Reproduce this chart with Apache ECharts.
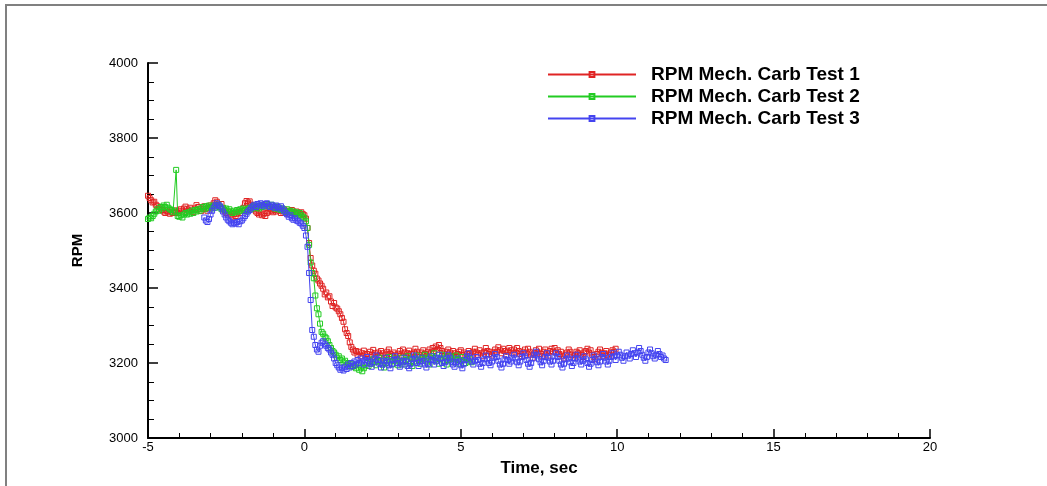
<!DOCTYPE html>
<html>
<head>
<meta charset="utf-8">
<script src="https://cdn.jsdelivr.net/npm/echarts@6/dist/echarts.min.js"></script>
<style>
html,body{margin:0;padding:0;background:#fff;}
#chart{width:1047px;height:486px;}
</style>
</head>
<body>
<div id="chart"></div>
<script>
// ---- data (time step 0.05 s) ----
const seriesNames = ['RPM Mech. Carb Test 1', 'RPM Mech. Carb Test 2', 'RPM Mech. Carb Test 3'];
const timeStep = 0.05;
const redStart = -5.0;
const redRPM = [
3646,3640,3634,3628,3630,3622,3618,3612,3615,3608,3604,3600,3606,3602,3598,3604,3600,3607,3603,3600,
3606,3610,3604,3612,3617,3610,3606,3614,3609,3603,3612,3621,3616,3610,3605,3612,3618,3611,3606,3614,
3620,3615,3626,3634,3630,3622,3616,3624,3612,3606,3600,3596,3602,3594,3590,3597,3592,3598,3604,3600,
3606,3614,3626,3632,3628,3631,3622,3616,3610,3604,3600,3596,3602,3594,3598,3592,3600,3604,3610,3606,
3602,3608,3604,3610,3606,3600,3604,3609,3603,3598,3606,3602,3608,3603,3598,3604,3600,3596,3602,3597,
3594,3585,3560,3520,3480,3460,3446,3438,3425,3420,3412,3406,3398,3383,3388,3375,3378,3364,3352,3360,
3348,3345,3338,3330,3320,3310,3290,3280,3272,3255,3243,3236,3228,3232,3222,3230,3218,3226,3233,3220,
3224,3216,3230,3222,3235,3226,3218,3228,3221,3232,3226,3214,3222,3230,3236,3224,3219,3228,3222,3212,
3225,3232,3220,3236,3228,3218,3226,3233,3224,3215,3228,3238,3230,3222,3216,3228,3234,3224,3218,3230,
3236,3226,3240,3232,3244,3236,3248,3240,3232,3225,3218,3230,3236,3228,3220,3232,3226,3216,3224,3230,
3234,3222,3228,3216,3224,3232,3226,3220,3230,3238,3228,3222,3234,3226,3218,3230,3240,3232,3224,3230,
3220,3228,3236,3230,3242,3234,3226,3238,3232,3222,3230,3240,3234,3226,3236,3228,3240,3232,3224,3218,
3230,3236,3226,3238,3230,3222,3214,3226,3234,3228,3238,3224,3218,3230,3236,3226,3220,3232,3238,3230,
3240,3228,3234,3224,3230,3218,3212,3222,3228,3236,3230,3222,3214,3220,3230,3226,3234,3222,3216,3228,
3232,3238,3228,3234,3222,3216,3210,3224,3230,3236,3226,3218,3226,3232,3222,3216,3228,3234,3230,3238
];
const greenStart = -5.0;
const greenRPM = [
3584,3588,3586,3592,3598,3604,3610,3606,3616,3612,3620,3616,3622,3614,3610,3608,3602,3606,3715,3592,
3590,3594,3588,3596,3600,3596,3602,3598,3606,3600,3608,3604,3610,3606,3612,3616,3610,3618,3614,3620,
3616,3612,3620,3614,3618,3622,3616,3610,3614,3608,3612,3606,3610,3604,3600,3606,3602,3608,3604,3610,
3606,3612,3608,3604,3610,3614,3610,3616,3620,3614,3618,3612,3620,3616,3622,3618,3624,3620,3616,3622,
3616,3612,3618,3610,3614,3608,3612,3606,3604,3610,3602,3606,3600,3604,3598,3602,3596,3600,3594,3590,
3586,3578,3560,3515,3468,3440,3426,3380,3346,3330,3305,3283,3278,3270,3266,3258,3248,3240,3232,3228,
3222,3214,3218,3208,3212,3202,3206,3196,3200,3192,3198,3190,3194,3186,3196,3182,3188,3178,3186,3194,
3200,3192,3206,3198,3210,3202,3194,3204,3214,3206,3196,3188,3200,3208,3216,3204,3196,3206,3212,3200,
3194,3206,3214,3202,3196,3208,3218,3210,3200,3192,3204,3212,3220,3208,3198,3206,3214,3222,3212,3204,
3196,3208,3218,3226,3214,3206,3198,3210,3222,3214,3204,3196,3208,3218,3210,3202,3212,3220,3208,3198,
3206,3216,3208,3200,3212,3204,3210,3202
];
const blueStart = -3.2;
const blueRPM = [
3588,3580,3576,3584,3596,3606,3614,3620,3626,3622,3618,3612,3604,3596,3588,3582,3578,3574,3570,3574,
3572,3576,3570,3578,3580,3586,3592,3598,3604,3608,3614,3618,3622,3616,3624,3620,3626,3622,3618,3624,
3626,3620,3616,3622,3618,3614,3620,3616,3612,3618,3612,3606,3600,3596,3590,3594,3586,3582,3586,3580,
3578,3574,3572,3566,3560,3540,3510,3440,3368,3288,3270,3248,3236,3230,3246,3254,3258,3250,3246,3240,
3236,3228,3222,3212,3200,3194,3188,3182,3186,3180,3190,3184,3196,3188,3200,3192,3204,3196,3208,3200,
3212,3204,3196,3208,3216,3206,3198,3190,3202,3212,3220,3208,3198,3188,3196,3206,3214,3204,3194,3186,
3198,3208,3218,3210,3200,3190,3196,3206,3214,3204,3192,3186,3198,3210,3220,3212,3200,3192,3204,3214,
3206,3196,3188,3198,3210,3218,3208,3196,3204,3214,3222,3212,3200,3192,3202,3212,3222,3214,3204,3196,
3190,3202,3212,3204,3194,3186,3198,3208,3218,3226,3214,3204,3196,3206,3216,3208,3198,3190,3200,3210,
3220,3210,3200,3194,3204,3214,3224,3216,3206,3196,3188,3198,3210,3218,3208,3198,3204,3214,3222,3212,
3202,3194,3204,3216,3226,3218,3208,3198,3190,3200,3212,3222,3230,3220,3210,3202,3194,3206,3216,3226,
3214,3204,3196,3206,3218,3226,3216,3206,3196,3188,3198,3210,3220,3212,3202,3192,3200,3212,3222,3212,
3204,3196,3206,3218,3210,3200,3190,3198,3208,3220,3212,3202,3194,3204,3216,3224,3214,3204,3196,3206,
3216,3226,3218,3208,3220,3230,3222,3214,3206,3218,3228,3220,3212,3224,3234,3226,3216,3228,3240,3232,
3222,3214,3206,3216,3228,3236,3226,3218,3212,3222,3232,3224,3216,3220,3212,3208
];
const xTicks = [-5, 0, 5, 10, 15, 20];
const yTicks = [3000, 3200, 3400, 3600, 3800, 4000];

const colors = ['#e02424', '#22cc22', '#4444f0'];

function toPairs(start, vals) {
  return vals.map((v, i) => [+(start + i * timeStep).toFixed(3), v]);
}
const allData = [toPairs(redStart, redRPM), toPairs(greenStart, greenRPM), toPairs(blueStart, blueRPM)];

const chart = echarts.init(document.getElementById('chart'), null, {renderer: 'canvas'});
const font = 'Liberation Sans, Arial, sans-serif';
chart.setOption({
  animation: false,
  backgroundColor: '#fff',
  grid: {left: 148, right: 117, top: 63, bottom: 48, containLabel: false},
  graphic: [{
    type: 'rect', shape: {x: 6, y: 5, width: 1200, height: 600},
    style: {fill: 'none', stroke: '#808080', lineWidth: 2}, silent: true, z: -1
  }],
  legend: {
    orient: 'vertical', left: 542, top: 60,
    itemWidth: 88, itemHeight: 6, itemGap: 3,
    data: seriesNames,
    textStyle: {fontFamily: font, fontWeight: 'bold', fontSize: 19, color: '#000', lineHeight: 18, padding: [0, 0, 0, 10]}
  },
  xAxis: {
    type: 'value', min: xTicks[0], max: xTicks[xTicks.length - 1], interval: 5,
    name: 'Time, sec', nameLocation: 'middle', nameGap: 22,
    nameTextStyle: {fontFamily: font, fontWeight: 'bold', fontSize: 17, color: '#000'},
    axisLine: {show: true, onZero: false, lineStyle: {color: '#000', width: 2}},
    axisTick: {show: true, inside: true, length: 9, lineStyle: {color: '#000', width: 1.5}},
    minorTick: {show: true, splitNumber: 5, length: 5, lineStyle: {color: '#000', width: 1}},
    axisLabel: {fontFamily: font, fontSize: 13, color: '#000', margin: 3, formatter: v => String(v)},
    splitLine: {show: false}
  },
  yAxis: {
    type: 'value', min: yTicks[0], max: yTicks[yTicks.length - 1], interval: 200,
    name: 'RPM', nameLocation: 'middle', nameGap: 63, nameRotate: 90,
    nameTextStyle: {fontFamily: font, fontWeight: 'bold', fontSize: 15, color: '#000'},
    axisLine: {show: true, onZero: false, lineStyle: {color: '#000', width: 2}},
    axisTick: {show: true, inside: true, length: 10, lineStyle: {color: '#000', width: 1.5}},
    minorTick: {show: true, splitNumber: 4, length: 6, lineStyle: {color: '#000', width: 1}},
    axisLabel: {fontFamily: font, fontSize: 13, color: '#000', margin: 10, formatter: v => String(v)},
    splitLine: {show: false}
  },
  series: allData.map((d, i) => ({
    name: seriesNames[i],
    type: 'line',
    data: d,
    symbol: 'rect',
    symbolSize: 5,
    showAllSymbol: true,
    lineStyle: {color: colors[i], width: 1},
    itemStyle: {color: 'rgba(255,255,255,0)', borderColor: colors[i], borderWidth: 1},
    emphasis: {disabled: true},
    z: 2 + i
  }))
});
</script>
</body>
</html>
